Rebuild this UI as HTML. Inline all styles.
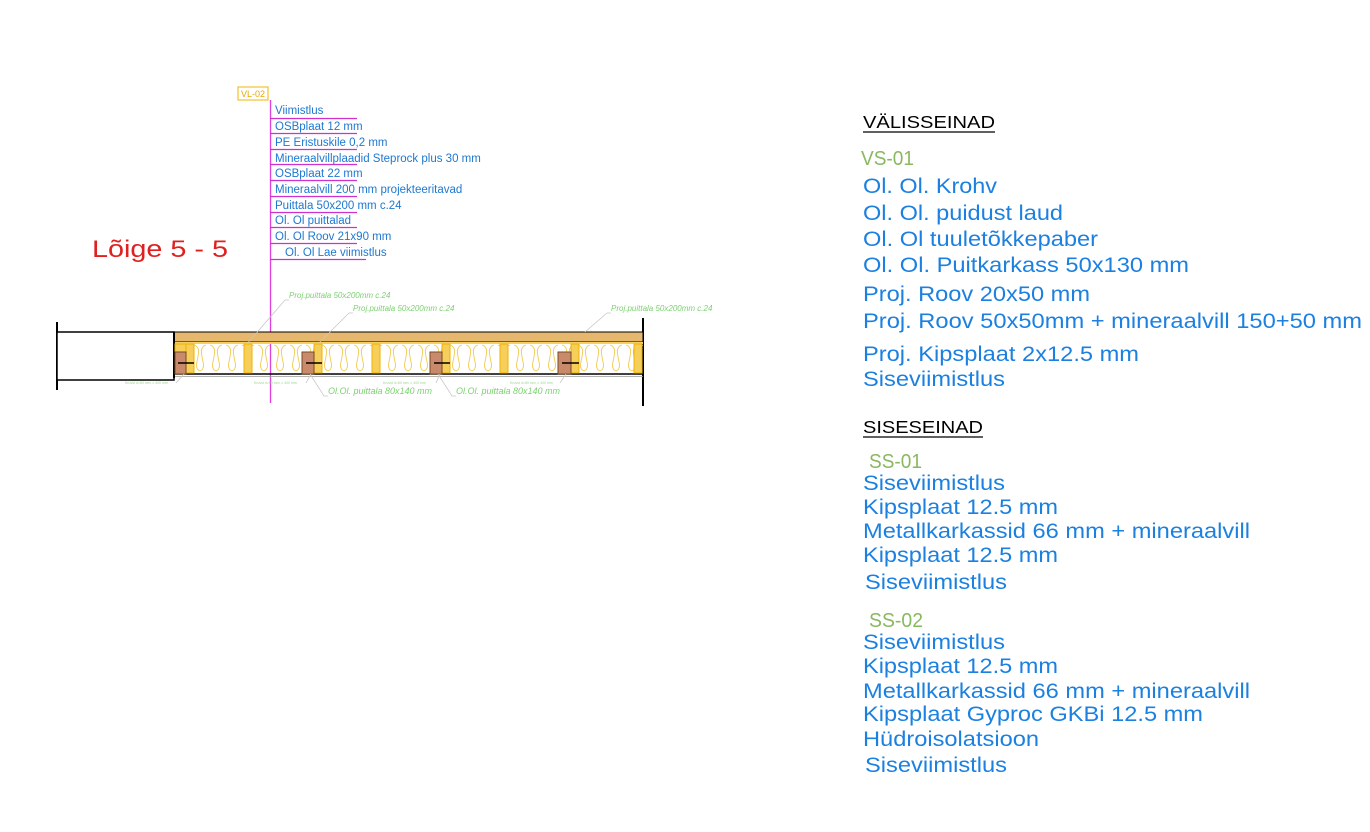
<!DOCTYPE html>
<html><head><meta charset="utf-8"><style>
html,body{margin:0;padding:0;background:#fff;}
svg{display:block;}
</style></head><body>
<svg width="1370" height="832" viewBox="0 0 1370 832" xmlns="http://www.w3.org/2000/svg" font-family="Liberation Sans, sans-serif">
<defs>
<pattern id="ins" x="0" y="343" width="16" height="30" patternUnits="userSpaceOnUse">
<path d="M2,2 C14,6 -2,24 8,28 C18,24 2,6 14,2" fill="none" stroke="#f0c850" stroke-width="0.9"/>
</pattern>
</defs>
<!-- left label column -->
<rect x="238" y="87" width="30" height="13" fill="none" stroke="#f0b400" stroke-width="1"/>
<text x="241" y="97" font-size="9" fill="#e8a800">VL-02</text>
<line x1="270.5" y1="100" x2="270.5" y2="403" stroke="#e040e0" stroke-width="1.3"/>
<g stroke="#d030d0" stroke-width="1.2">
<line x1="270" y1="118.5" x2="357" y2="118.5"/>
<line x1="270" y1="133.5" x2="357" y2="133.5"/>
<line x1="270" y1="149.5" x2="357" y2="149.5"/>
<line x1="270" y1="164.5" x2="357" y2="164.5"/>
<line x1="270" y1="180.5" x2="357" y2="180.5"/>
<line x1="270" y1="196.5" x2="357" y2="196.5"/>
<line x1="270" y1="212.5" x2="357" y2="212.5"/>
<line x1="270" y1="227.5" x2="357" y2="227.5"/>
<line x1="270" y1="243.5" x2="357" y2="243.5"/>
<line x1="270" y1="259.5" x2="366" y2="259.5"/>
</g>
<g font-size="11.5" fill="#1e78d0">
<text x="275" y="114">Viimistlus</text>
<text x="275" y="130">OSBplaat 12 mm</text>
<text x="275" y="146">PE  Eristuskile 0,2 mm</text>
<text x="275" y="162">Mineraalvillplaadid Steprock plus 30 mm</text>
<text x="275" y="177">OSBplaat 22 mm</text>
<text x="275" y="193">Mineraalvill 200 mm projekteeritavad</text>
<text x="275" y="209">Puittala 50x200 mm c.24</text>
<text x="275" y="224">Ol. Ol puittalad</text>
<text x="275" y="240">Ol. Ol Roov 21x90 mm</text>
<text x="285" y="256">Ol. Ol Lae viimistlus</text>
</g>
<text x="92" y="257" font-size="24" fill="#e02020" textLength="136" lengthAdjust="spacingAndGlyphs">Lõige 5 - 5</text>

<!-- floor section -->
<line x1="57" y1="322" x2="57" y2="390" stroke="#000" stroke-width="2"/>
<rect x="57" y="332" width="117" height="48" fill="#fff" stroke="#000" stroke-width="1.5"/>
<line x1="643" y1="318" x2="643" y2="406" stroke="#000" stroke-width="2"/>
<rect x="174" y="332" width="469" height="10" fill="#e6b86e" stroke="#000" stroke-width="1"/>
<rect x="174" y="342" width="469" height="2" fill="#f5d060"/>
<rect x="174" y="344" width="469" height="29" fill="url(#ins)"/>
<line x1="174" y1="374" x2="643" y2="374" stroke="#000" stroke-width="1.5"/>
<line x1="174" y1="376.5" x2="643" y2="376.5" stroke="#999" stroke-width="0.8"/>
<line x1="174" y1="332" x2="174" y2="378" stroke="#000" stroke-width="2"/>
<g fill="#f6cf5a" stroke="#f0b000" stroke-width="1">
<rect x="186" y="344" width="8" height="29"/>
<rect x="244" y="344" width="8" height="29"/>
<rect x="314" y="344" width="8" height="29"/>
<rect x="372" y="344" width="8" height="29"/>
<rect x="442" y="344" width="8" height="29"/>
<rect x="500" y="344" width="8" height="29"/>
<rect x="571" y="344" width="8" height="29"/>
<rect x="634" y="344" width="8" height="29"/>
<rect x="175" y="344" width="11" height="8"/>
</g>
<g fill="#c98a6c" stroke="#7a4a20" stroke-width="1">
<rect x="175" y="352" width="11" height="22"/>
<rect x="302" y="352" width="12" height="22"/>
<rect x="430" y="352" width="12" height="22"/>
<rect x="558" y="352" width="13" height="22"/>
</g>
<g stroke="#000" stroke-width="1.5">
<line x1="178" y1="363" x2="194" y2="363"/>
<line x1="306" y1="363" x2="322" y2="363"/>
<line x1="434" y1="363" x2="450" y2="363"/>
<line x1="562" y1="363" x2="579" y2="363"/>
</g>
<!-- leaders -->
<g stroke="#c8c8c8" stroke-width="0.8" fill="none">
<polyline points="289,300 285,300 247,344"/>
<polyline points="353,313 349,313 318,344"/>
<polyline points="611,313 607,313 585,332"/>
<polyline points="176,383 184,374"/>
<polyline points="306,383 311,374"/>
<polyline points="328,396 324,396 310,374"/>
<polyline points="456,396 452,396 438,374"/>
<polyline points="560,383 566,374"/>
<polyline points="436,383 440,374"/>
</g>
<g font-size="8" fill="#7cd070" font-style="italic">
<text x="289" y="298">Proj.puittala 50x200mm c.24</text>
<text x="353" y="311">Proj.puittala 50x200mm c.24</text>
<text x="611" y="311">Proj.puittala 50x200mm c.24</text>
<text x="328" y="394" font-size="9">Ol.Ol. puittala 80x140 mm</text>
<text x="456" y="394" font-size="9">Ol.Ol. puittala 80x140 mm</text>
</g>
<g font-size="3.5" fill="#9ad890">
<text x="125" y="384">Kruvid d=80 mm, c 400 mm</text>
<text x="254" y="384">Kruvid d=80 mm, c 400 mm</text>
<text x="383" y="384">Kruvid d=80 mm, c 400 mm</text>
<text x="510" y="384">Kruvid d=80 mm, c 400 mm</text>
</g>

<!-- right legend -->
<text x="863" y="128" font-size="17.5" fill="#000" textLength="132" lengthAdjust="spacingAndGlyphs">VÄLISSEINAD</text>
<line x1="863" y1="132" x2="995" y2="132" stroke="#000" stroke-width="1.2"/>
<text x="861" y="165" font-size="20" fill="#8ab860" textLength="53" lengthAdjust="spacingAndGlyphs">VS-01</text>
<g font-size="21" fill="#1b80e0" lengthAdjust="spacingAndGlyphs">
<text x="863" y="193" textLength="134" lengthAdjust="spacingAndGlyphs">Ol. Ol. Krohv</text>
<text x="863" y="220" textLength="200" lengthAdjust="spacingAndGlyphs">Ol. Ol. puidust laud</text>
<text x="863" y="246" textLength="235" lengthAdjust="spacingAndGlyphs">Ol. Ol tuuletõkkepaber</text>
<text x="863" y="272" textLength="326" lengthAdjust="spacingAndGlyphs">Ol. Ol. Puitkarkass 50x130 mm</text>
<text x="863" y="301" textLength="227" lengthAdjust="spacingAndGlyphs">Proj. Roov 20x50 mm</text>
<text x="863" y="328" textLength="499" lengthAdjust="spacingAndGlyphs">Proj. Roov 50x50mm + mineraalvill 150+50 mm</text>
<text x="863" y="361" textLength="276" lengthAdjust="spacingAndGlyphs">Proj. Kipsplaat 2x12.5 mm</text>
<text x="863" y="386" textLength="142" lengthAdjust="spacingAndGlyphs">Siseviimistlus</text>
</g>
<text x="863" y="433" font-size="17.5" fill="#000" textLength="120" lengthAdjust="spacingAndGlyphs">SISESEINAD</text>
<line x1="863" y1="437" x2="983" y2="437" stroke="#000" stroke-width="1.2"/>
<text x="869" y="468" font-size="20" fill="#8ab860" textLength="53" lengthAdjust="spacingAndGlyphs">SS-01</text>
<g font-size="21" fill="#1b80e0">
<text x="863" y="490" textLength="142" lengthAdjust="spacingAndGlyphs">Siseviimistlus</text>
<text x="863" y="514" textLength="195" lengthAdjust="spacingAndGlyphs">Kipsplaat 12.5 mm</text>
<text x="863" y="538" textLength="387" lengthAdjust="spacingAndGlyphs">Metallkarkassid 66 mm + mineraalvill</text>
<text x="863" y="562" textLength="195" lengthAdjust="spacingAndGlyphs">Kipsplaat 12.5 mm</text>
<text x="865" y="589" textLength="142" lengthAdjust="spacingAndGlyphs">Siseviimistlus</text>
</g>
<text x="869" y="627" font-size="20" fill="#8ab860" textLength="54" lengthAdjust="spacingAndGlyphs">SS-02</text>
<g font-size="21" fill="#1b80e0">
<text x="863" y="649" textLength="142" lengthAdjust="spacingAndGlyphs">Siseviimistlus</text>
<text x="863" y="673" textLength="195" lengthAdjust="spacingAndGlyphs">Kipsplaat 12.5 mm</text>
<text x="863" y="698" textLength="387" lengthAdjust="spacingAndGlyphs">Metallkarkassid 66 mm + mineraalvill</text>
<text x="863" y="721" textLength="340" lengthAdjust="spacingAndGlyphs">Kipsplaat Gyproc GKBi 12.5 mm</text>
<text x="863" y="746" textLength="176" lengthAdjust="spacingAndGlyphs">Hüdroisolatsioon</text>
<text x="865" y="772" textLength="142" lengthAdjust="spacingAndGlyphs">Siseviimistlus</text>
</g>
</svg>
</body></html>
